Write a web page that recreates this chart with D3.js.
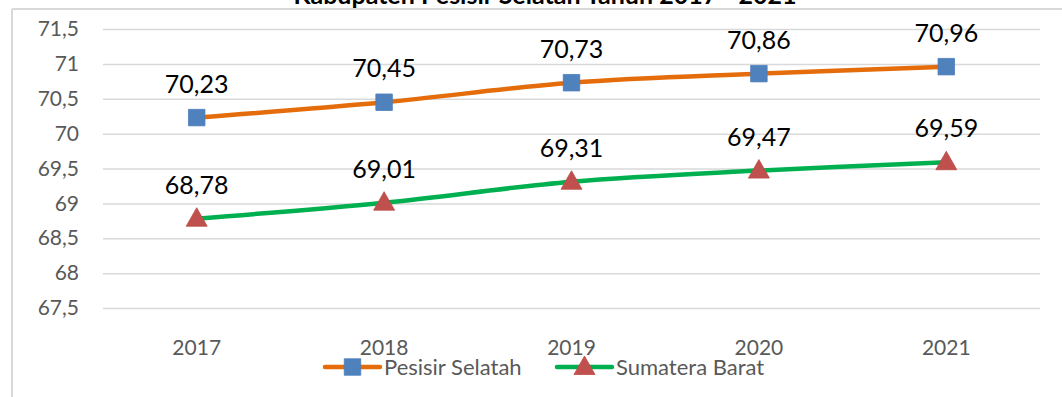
<!DOCTYPE html>
<html>
<head>
<meta charset="utf-8">
<script src="https://cdn.jsdelivr.net/npm/d3@7"></script>
<style>
  html, body { margin: 0; padding: 0; background: #fff; }
  svg { display: block; font-family: Lato, "Open Sans", sans-serif; }
</style>
</head>
<body>
<svg id="chart" width="1062" height="397"></svg>
<script>
// Data
const years = ["2017", "2018", "2019", "2020", "2021"];
const pesisirSelatan = [70.23, 70.45, 70.73, 70.86, 70.96];
const sumateraBarat = [68.78, 69.01, 69.31, 69.47, 69.59];
const yTicks = [67.5, 68, 68.5, 69, 69.5, 70, 70.5, 71, 71.5];
const seriesNames = ["Pesisir Selatah", "Sumatera Barat"];
const titleText = "Kabupaten Pesisir Selatan Tahun 2017 - 2021";

const svg = d3.select("#chart");
const W = 1062, H = 397;
const plot = { left: 103, right: 1040, top: 29, bottom: 308 };

const fmt = v => String(v).replace(".", ",");

const x = d3.scaleBand().domain(years).range([plot.left, plot.right]);
const y = d3.scaleLinear().domain([67.5, 71.5]).range([plot.bottom, plot.top]);

// Chart frame
svg.append("line").attr("x1", 12).attr("x2", W).attr("y1", 9).attr("y2", 9)
  .attr("stroke", "#d9d9d9").attr("stroke-width", 2);
svg.append("line").attr("x1", 12).attr("x2", 12).attr("y1", 9).attr("y2", H)
  .attr("stroke", "#d9d9d9").attr("stroke-width", 2);

// Title (upper part lies outside the view)
svg.append("text").attr("x", 545).attr("y", 4).attr("text-anchor", "middle")
  .attr("font-size", 25).attr("font-weight", "bold").attr("fill", "#000")
  .text(titleText);

// Gridlines and y labels
const yAxis = d3.axisLeft(y).tickValues(yTicks).tickFormat(fmt)
  .tickSize(-(plot.right - plot.left)).tickPadding(24);
const gy = svg.append("g").attr("transform", `translate(${plot.left},0)`).call(yAxis);
gy.select(".domain").remove();
gy.selectAll(".tick line").attr("stroke", "#d9d9d9").attr("stroke-width", 1.5);
gy.selectAll(".tick text").attr("fill", "#595959").attr("font-size", 21)
  .attr("font-family", "Lato, sans-serif");

// X axis labels
const xAxis = d3.axisBottom(x).tickSize(0).tickPadding(0);
const gx = svg.append("g").attr("transform", `translate(0,${plot.bottom})`).call(xAxis);
gx.select(".domain").remove();
gx.selectAll(".tick text").attr("fill", "#595959").attr("font-size", 21)
  .attr("font-family", "Lato, sans-serif").attr("dy", null).attr("y", 47);

const cx = d => x(d) + x.bandwidth() / 2;

const line = d3.line()
  .x((d, i) => cx(years[i]))
  .y(d => y(d))
  .curve(d3.curveCatmullRom.alpha(0.5));

const series = [
  { name: seriesNames[0], values: pesisirSelatan, color: "#e46c0a", marker: "square", mcolor: "#4f81bd" },
  { name: seriesNames[1], values: sumateraBarat, color: "#00b050", marker: "triangle", mcolor: "#c0504d" }
];

const squareSym = d3.symbol().type(d3.symbolSquare).size(272);
const triPath = "M0,-11L10.5,7.5L-10.5,7.5Z";

function drawMarker(g, s) {
  if (s.marker === "square") {
    g.append("path").attr("d", squareSym()).attr("fill", s.mcolor)
      .attr("stroke", "#4a7ebb").attr("stroke-width", 0.8);
  } else {
    g.append("path").attr("d", triPath).attr("fill", s.mcolor)
      .attr("stroke", "#be4b48").attr("stroke-width", 0.8);
  }
}

series.forEach(s => {
  svg.append("path").datum(s.values).attr("d", line)
    .attr("fill", "none").attr("stroke", s.color).attr("stroke-width", 4.5)
    .attr("stroke-linecap", "round");
  s.values.forEach((v, i) => {
    const g = svg.append("g").attr("transform", `translate(${cx(years[i])},${y(v)})`);
    drawMarker(g, s);
  });
  s.values.forEach((v, i) => {
    svg.append("text").attr("x", cx(years[i])).attr("y", y(v) - 25)
      .attr("text-anchor", "middle").attr("font-size", 25).attr("fill", "#000")
      .text(fmt(v));
  });
});

// Legend
const legendItems = [
  { s: series[0], x0: 325 },
  { s: series[1], x0: 557 }
];
legendItems.forEach(({ s, x0 }) => {
  const ly = 367;
  svg.append("line").attr("x1", x0).attr("x2", x0 + 55).attr("y1", ly).attr("y2", ly)
    .attr("stroke", s.color).attr("stroke-width", 4.5).attr("stroke-linecap", "round");
  const g = svg.append("g").attr("transform", `translate(${x0 + 27.5},${ly})`);
  drawMarker(g, s);
  svg.append("text").attr("x", x0 + 59).attr("y", ly + 8).attr("font-size", 22)
    .attr("fill", "#595959").text(s.name);
});
</script>
</body>
</html>
